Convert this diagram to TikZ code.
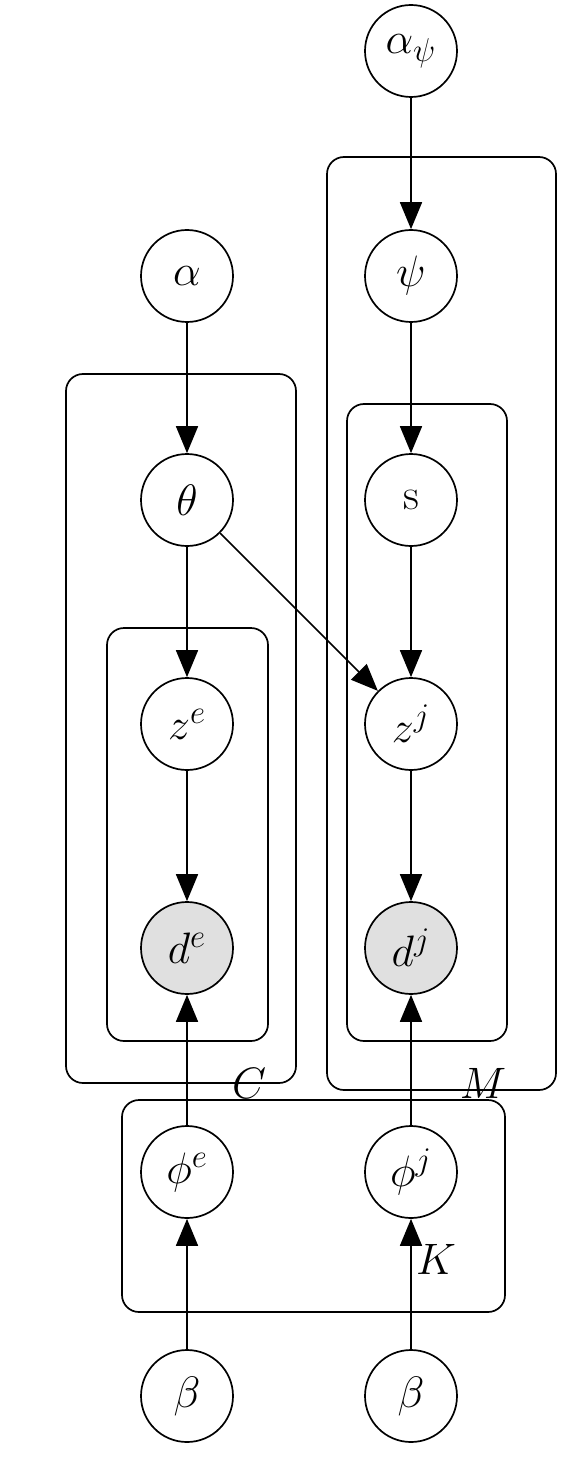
\RequirePackage{fix-cm}
\documentclass[tikz,border=0pt]{standalone}
\usetikzlibrary{arrows.meta}
\DeclareMathSizes{22}{22}{16.5}{12}
\definecolor{obsgray}{RGB}{224,224,224}
\begin{document}
\begin{tikzpicture}[x=0.5pt,y=-0.5pt,
  every node/.style={font=\fontsize{22}{26}\selectfont},
  var/.style={circle,draw,line width=0.85pt,minimum size=46pt,inner sep=0pt,fill=white},
  obs/.style={var,fill=obsgray},
  edge/.style={line width=0.85pt,-{Triangle[length=13.5pt,width=11pt]}},
  plate/.style={draw,line width=0.85pt,rounded corners=8.5pt}]
\useasboundingbox (0,0) rectangle (578,1460);
% plates
\draw[plate] (66,374) rectangle (296,1083);
\draw[plate] (107,628) rectangle (268,1041);
\draw[plate] (327,157) rectangle (556,1090);
\draw[plate] (347,404) rectangle (507,1041);
\draw[plate] (122,1100) rectangle (505,1312);
\node (labC) at (249,1083) {$C$};
\node (labM) at (483,1083) {$M$};
\node (labK) at (436,1259) {$K$};
% nodes
\node[var] (apsi) at (411,51) {$\alpha_\psi$};
\node[var] (psi) at (411,276) {$\psi$};
\node[var] (alpha) at (187,276) {$\alpha$};
\node[var] (theta) at (187,500) {$\theta$};
\node[var] (s) at (411,500) {s};
\node[var] (ze) at (187,724) {$z^e$};
\node[var] (zj) at (411,724) {$z^j$};
\node[obs] (de) at (187,948) {$d^e$};
\node[obs] (dj) at (411,948) {$d^j$};
\node[var] (phie) at (187,1172) {$\phi^e$};
\node[var] (phij) at (411,1172) {$\phi^j$};
\node[var] (be) at (187,1396) {$\beta$};
\node[var] (bj) at (411,1396) {$\beta$};
% edges
\draw[edge] (apsi) -- (psi);
\draw[edge] (psi) -- (s);
\draw[edge] (alpha) -- (theta);
\draw[edge] (theta) -- (ze);
\draw[edge] (theta) -- (zj);
\draw[edge] (s) -- (zj);
\draw[edge] (ze) -- (de);
\draw[edge] (zj) -- (dj);
\draw[edge] (phie) -- (de);
\draw[edge] (phij) -- (dj);
\draw[edge] (be) -- (phie);
\draw[edge] (bj) -- (phij);
\end{tikzpicture}
\end{document}
